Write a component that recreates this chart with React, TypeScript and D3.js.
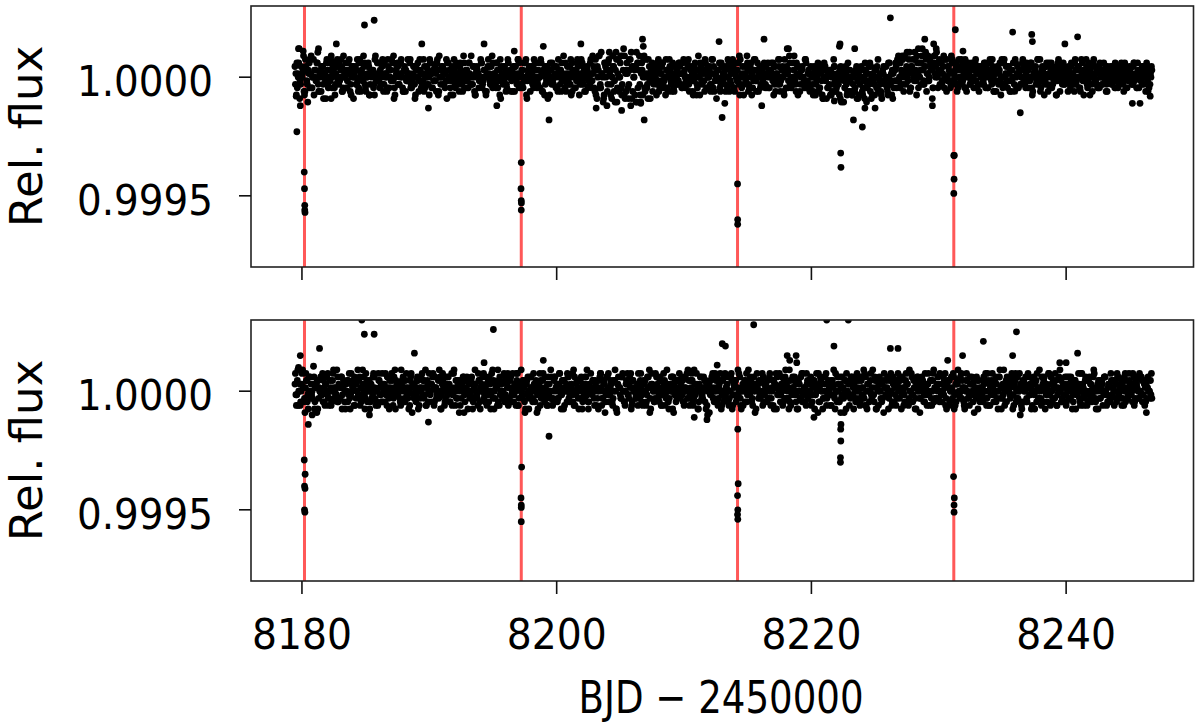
import React from "react";
import * as d3 from "d3";

// Time grid of the light curve (BJD - 2450000); three interleaved sets of cadences
const T_START = 8179.45;
const T_STEP = 0.1122;
const BAND_OFFSETS = [0, 1 / 3, 2 / 3];

// Band values are read in units of 15 ppm (flux = 1 + v * BAND_UNIT)
const BAND_UNIT = 1.5e-5;
// Outlier / transit values are read in units of 10 ppm (flux = 1 + v * EXTRA_UNIT)
const EXTRA_UNIT = 1e-5;

const TOP_BAND = [
  3,-5,1,8,-2,0,6,-4,2,-7,4,1,-3,5,0,-1,7,-4,2,3,-6,1,4,-2,0,5,-3,2,-5,3,
  -1,4,2,-4,6,0,-3,1,5,-2,3,-6,0,2,-1,4,-4,1,6,-2,0,3,-5,2,1,-3,5,-1,0,4,
  -2,3,-4,1,0,5,-3,2,-1,6,-5,1,3,-2,4,0,-4,2,-1,5,1,-3,0,3,-6,2,4,-1,1,-2,
  5,-3,0,2,-5,4,1,-1,3,-4,2,6,-2,0,1,-3,5,-1,2,-5,3,0,-2,4,1,-4,2,-1,6,0,
  -3,1,4,-2,0,3,-5,2,1,-1,5,-3,0,2,-4,3,1,-2,6,-1,0,4,-3,2,-6,1,3,0,-2,5,
  1,-4,2,0,3,-1,5,-3,1,-2,4,0,-5,2,3,-1,1,-3,4,2,-2,0,5,-4,1,3,-1,-6,2,0,
  4,-2,1,3,-4,0,2,-1,6,-3,1,0,-2,5,-4,2,1,-1,3,-5,0,4,-2,1,2,-3,0,5,-1,3,
  -4,2,0,6,-3,1,-6,4,2,-2,7,-5,0,3,-7,5,1,-4,6,-2,8,-6,2,-3,5,-8,3,0,-5,7,
  -3,6,-7,2,5,-4,1,-6,3,0,4,-2,1,-5,3,2,-1,4,-3,0,2,-4,5,-1,1,-3,3,0,-2,4,
  1,-3,5,0,-2,3,-4,2,1,-1,4,-5,2,0,3,-2,1,5,-3,0,2,-4,1,3,-1,-6,2,4,-2,0,
  3,-2,0,5,-4,1,2,-3,4,0,-1,6,-2,1,-5,3,0,2,-3,4,1,-1,5,-4,0,2,-2,3,1,-3,
  0,4,-3,2,1,-5,3,0,-2,5,-1,2,-4,1,3,-3,6,0,-2,2,-1,4,-5,1,0,3,-2,5,-3,1,
  -2,3,0,-4,1,-1,4,-3,2,-5,0,3,-6,1,-2,2,-4,5,-1,-3,1,-5,3,0,-7,2,-2,4,-4,0,
  -5,1,-3,3,-6,0,2,-4,-1,4,-7,1,-2,3,-5,0,2,-3,5,-1,-4,1,3,-2,0,-5,4,-1,2,-3,
  2,-3,5,0,-2,6,-4,1,3,-1,7,-3,2,0,5,-5,1,4,-2,8,-1,3,-4,6,0,2,-6,4,1,7,
  -3,5,2,-1,6,0,-4,3,1,-2,5,-1,2,4,-3,0,3,-2,1,5,-4,2,0,-1,3,-3,4,1,-2,2,
  0,3,-2,4,1,-3,2,0,5,-4,1,-1,3,2,-5,0,4,-2,1,3,-1,-4,2,0,5,-3,1,2,-2,4,
  -1,2,4,-3,0,3,-5,1,2,-1,5,0,-3,3,1,-2,4,-4,0,2,3,-1,1,-5,4,0,2,-2,3,-1,
  2,-4,1,3,0,-2,5,-1,2,-3,0,4,-5,1,3,-1,2,0,-4,5,1,-2,3,-3,0,2,4,-1,-2,1,
  0,3,-2,1,4,-1,-3,2,0,3,-4,1,2,-1,3,0,-2,4,1,-3,2,0,-1,3,-2,1,4,-4,2,0,
];

const TOP_BAND_B = [
  -2,4,0,-6,3,1,-4,5,-1,2,-3,6,0,-5,2,4,-2,1,-4,3,0,-1,5,-3,2,-6,1,4,-2,0,
  3,-1,5,-4,0,2,-3,4,1,-5,2,0,3,-2,-4,5,1,-1,3,-3,0,4,-5,2,1,-2,6,-1,0,-3,
  1,5,-2,0,-4,3,2,-1,4,-6,0,3,-2,1,5,-3,2,-4,0,1,4,-2,-1,3,-5,2,0,5,-3,1,
  -4,0,3,-2,5,1,-3,2,-1,4,-5,0,2,3,-2,1,-6,4,0,-1,2,5,-3,1,-2,3,0,-4,4,-1,
  2,-3,1,6,-2,0,-5,3,1,-1,4,-2,2,-4,0,5,-1,3,-3,1,-2,4,0,-5,3,1,-1,2,-3,4,
  0,2,-4,1,3,-2,5,0,-3,2,-1,4,-6,1,0,3,-2,5,-1,-3,2,0,4,-4,1,-2,3,1,-5,2,
  -1,3,0,-3,5,2,-4,1,0,4,-2,-1,3,-5,2,1,-3,4,0,-2,5,-1,2,-4,3,0,-2,1,6,-3,
  5,-6,2,-3,7,0,-5,3,-8,4,1,-2,6,-4,2,-7,5,0,-3,6,-5,1,4,-6,2,7,-4,0,3,-7,
  4,-2,1,-5,6,0,-3,5,-1,2,-4,3,0,-2,5,-3,1,4,-1,-5,2,0,3,-2,4,-4,1,2,-1,3,
  -2,4,1,-3,0,5,-1,2,-4,3,0,-2,6,-5,1,2,-1,4,-3,0,3,-2,5,-4,1,0,2,-3,4,-1,
  1,-4,3,0,2,-2,5,-3,1,-1,4,-5,0,3,-2,1,6,-4,2,0,-3,5,-1,2,-4,3,0,-1,4,-2,
  -3,2,0,4,-1,3,-4,1,5,-2,0,3,-5,2,1,-1,4,-3,0,6,-2,1,3,-4,2,0,-1,5,-3,2,
  -4,1,-2,3,-5,0,2,-3,1,-6,4,-1,0,-3,2,-5,1,3,-4,0,-2,2,-7,1,-1,3,-5,0,2,-4,
  0,-4,2,-6,1,-2,3,-5,0,2,-3,-1,4,-6,1,-2,0,3,-4,1,-5,2,-1,0,-3,4,-2,1,-6,2,
  4,-1,6,-3,2,5,0,-2,7,1,-4,3,5,-1,2,6,-3,0,4,2,-2,7,1,-1,5,3,-3,6,0,4,
  2,-2,4,1,-3,5,0,3,-1,6,-2,1,4,-4,2,0,5,-1,3,-3,1,4,-2,0,2,-1,5,-3,1,3,
  -2,1,4,-3,2,0,5,-1,3,-4,1,2,-2,4,0,-3,5,1,-1,3,-4,2,0,-2,4,1,-3,2,0,5,
  3,-3,0,2,-1,4,-4,1,3,0,-2,5,-1,2,-5,3,0,1,-3,4,-2,0,2,-1,5,-4,1,3,-2,0,
  -1,3,-2,4,1,-4,2,0,3,-3,5,-1,0,2,-2,4,-5,1,3,0,-1,2,-3,4,1,-2,0,3,-4,2,
  1,-2,3,0,-3,2,1,-1,4,-2,0,3,-3,1,2,-1,-2,4,0,-3,1,2,-1,3,0,-4,2,1,-2,3,
];

const TOP_BAND_C = [
  1,-3,4,-1,0,2,-5,3,-2,1,5,-3,0,2,-1,4,-4,0,3,-2,1,-6,2,4,-1,0,3,-3,1,5,
  -2,0,3,-3,1,4,-1,2,-4,0,3,1,-2,5,-3,0,2,-1,4,-4,1,3,-2,0,2,-5,1,4,-1,2,
  0,-2,4,1,-3,2,0,5,-1,-3,2,4,-2,0,1,-4,3,2,-1,0,5,-3,1,-2,3,0,-4,2,1,-1,
  3,1,-2,0,4,-3,2,-1,1,5,-4,0,3,-2,2,-1,4,0,-3,1,-5,2,3,-1,0,4,-2,1,-3,2,
  -1,4,0,-2,3,-4,1,2,-3,0,4,-1,2,-5,1,3,-2,0,4,1,-3,2,-1,5,0,-2,3,-4,1,0,
  2,-1,3,-4,0,1,4,-2,2,-3,0,5,-1,1,-4,2,3,-2,0,-1,4,-3,1,2,-5,0,3,-1,4,-2,
  0,3,-3,1,2,-2,4,-1,0,-4,3,1,-2,4,0,-3,2,5,-1,1,-2,3,-4,0,2,-1,4,-3,1,2,
  -5,3,6,-2,1,-7,4,0,-4,5,2,-6,3,-1,7,-3,0,4,-5,2,6,-4,1,-2,5,-6,3,2,-7,4,
  2,-5,4,0,-3,5,-2,1,-6,3,0,2,-1,4,-4,1,3,-2,0,5,-3,1,2,-4,0,3,-1,-2,4,1,
  -3,1,2,-1,4,-2,0,3,-5,1,2,-3,0,4,-1,2,-4,1,3,0,-2,5,-3,1,0,2,-1,-4,3,1,
  2,0,-3,4,-1,1,3,-4,0,2,-2,5,-3,0,1,-1,4,-2,3,-5,0,2,-1,4,1,-3,2,0,-2,3,
  1,-3,2,0,4,-2,1,-1,3,-4,2,0,5,-3,1,2,-2,-1,4,0,-4,3,1,-2,2,0,-3,4,-1,1,
  -3,0,-5,2,-2,1,-4,3,-1,-6,0,2,-3,1,-5,0,-2,3,-4,1,-1,-6,2,0,-3,1,-4,2,-1,-5,
  -2,-4,1,-1,-5,2,0,-3,-6,1,-2,3,-4,0,-1,-5,2,-3,0,-2,-6,1,-1,3,-4,0,-2,-5,1,-1,
  3,5,-1,4,1,-2,6,2,0,5,-3,3,1,7,-1,4,0,2,6,-2,3,5,1,-1,4,2,-3,6,3,0,
  1,4,-2,3,0,5,-1,2,-3,4,1,0,3,-2,5,-1,2,4,-3,0,3,1,-2,4,0,2,-1,3,-4,2,
  2,-1,0,3,-3,1,4,-2,0,2,-4,3,1,-1,5,-2,0,3,-3,1,2,-1,4,-4,0,3,1,-2,2,0,
  -2,1,3,-1,4,-3,0,2,-2,5,1,-4,2,0,-1,3,-2,4,1,-3,0,2,-5,3,1,-1,0,4,-2,1,
  0,2,-3,1,-1,4,-2,3,0,-4,1,2,-1,5,-3,0,2,-2,4,-1,1,-3,3,0,-2,2,1,-4,3,-1,
  1,-1,2,-3,0,3,-2,1,2,-1,4,-3,0,2,1,-2,3,-1,0,4,-3,1,-2,2,0,3,-1,-3,1,2,
];

const BOTTOM_BAND = [
  2,-4,6,0,-3,5,1,-6,3,-1,4,-2,0,7,-3,2,-5,1,4,-1,3,-4,0,5,-2,1,-3,6,0,-1,
  4,-2,1,-5,3,0,2,-3,5,-1,0,3,-4,2,6,-2,1,-1,4,-5,2,0,3,-3,1,5,-2,0,-4,3,
  -1,5,2,-3,0,4,-5,1,3,-2,6,0,-1,2,-4,3,1,-3,5,-2,0,4,-6,2,1,-1,3,-4,0,5,
  3,-1,-4,2,5,0,-3,1,4,-2,0,6,-5,2,1,-3,4,-1,2,0,-4,5,1,-2,3,-6,0,2,4,-3,
  1,-5,3,0,2,-2,6,-1,-4,3,1,0,5,-3,2,-1,4,-5,0,3,-2,1,6,-4,2,0,-1,3,-3,5,
  -2,4,0,-3,1,5,-4,2,0,-1,3,-6,2,4,-2,1,0,5,-3,2,-5,1,3,-1,0,4,-2,-4,2,6,
  0,-3,4,1,-2,5,-1,3,-5,0,2,4,-3,1,-1,6,-4,2,0,3,-2,-5,1,4,0,-3,2,5,-1,1,
  3,-4,1,0,5,-2,2,-6,4,1,-1,3,-3,0,6,-5,2,1,-2,4,0,-4,3,-1,2,5,-3,0,1,-2,
  -4,2,5,-1,0,3,-3,1,6,-5,2,0,-2,4,1,-3,3,-1,5,-4,0,2,-2,1,4,-6,3,0,-1,5,
  2,-1,-3,4,0,6,-4,1,3,-2,0,5,-5,2,1,-1,4,-3,2,0,-6,3,1,-2,5,0,-4,2,3,-1,
  -3,5,1,0,-2,4,-5,2,3,-1,6,0,-4,1,2,-3,5,-1,0,3,-2,4,-6,1,2,0,-1,5,-3,2,
  1,-2,4,-4,0,3,2,-5,1,5,-1,0,-3,4,2,-2,6,-4,1,0,3,-1,-5,2,4,-3,0,1,5,-2,
  0,4,-3,2,-1,5,-6,1,3,0,-2,4,-4,2,1,-1,3,6,-5,0,2,-3,1,4,-2,0,5,-1,-4,3,
  2,-5,0,3,1,-2,4,-1,6,-4,0,2,-3,5,1,-1,3,-5,0,4,-2,2,-6,1,3,0,-1,5,-3,2,
  -1,3,5,-2,0,4,-4,1,2,-3,6,0,-1,3,-5,2,4,-2,1,0,-3,5,-1,2,-4,3,0,6,-2,1,
  4,-3,0,2,-1,5,-5,1,3,0,-2,4,-4,2,6,-1,0,3,-3,1,5,-2,-4,2,0,3,-1,4,-5,1,
  -2,1,4,0,-4,3,2,-1,5,-3,0,2,-5,4,1,-2,6,0,-3,2,1,-1,4,-4,3,0,-2,5,1,-3,
  3,0,-2,5,-1,1,-4,4,2,-3,0,6,-2,1,3,-5,2,0,-1,4,-3,2,5,-4,1,0,3,-2,-1,4,
  -3,2,1,4,-5,0,3,-1,2,-2,5,1,-4,3,0,-3,4,2,-1,6,-2,1,-5,3,0,2,-1,4,-4,1,
  2,5,-1,0,3,-3,4,1,-2,2,-4,5,0,-1,3,1,-3,4,-2,2,0,5,-1,-3,3,1,-2,4,0,-1,
];

const BOTTOM_BAND_B = [
  5,-1,-4,2,0,6,-3,1,3,-5,0,2,-2,4,1,-6,3,0,-1,5,-3,2,4,-2,0,-4,3,1,-1,6,
  -3,1,4,-1,2,-5,0,3,-2,5,1,-4,2,0,-1,4,-3,6,0,-2,3,1,-5,2,-1,4,0,-3,5,1,
  2,-3,0,5,-4,1,3,-1,0,4,-5,2,1,-2,6,0,-3,3,-1,1,-4,5,2,-2,0,3,-5,1,4,-1,
  -2,6,1,-3,0,2,4,-4,1,-1,3,0,-5,5,2,-2,0,4,-3,1,-1,6,-4,0,2,3,-2,1,-6,3,
  4,0,-2,3,-5,1,2,-1,5,-3,0,4,-2,1,-4,3,0,-1,6,-5,2,1,-3,4,0,-2,5,-1,2,-4,
  1,-3,5,-1,0,3,-4,2,6,-2,1,-5,3,0,-1,4,-3,2,1,-6,0,5,-2,3,-1,1,-4,4,0,-2,
  -4,3,0,2,-2,5,-5,1,3,0,-3,4,-1,2,5,-4,0,3,-2,1,4,-3,-1,2,6,-5,1,0,3,-2,
  2,0,-5,4,1,-2,3,-3,0,5,-1,2,-4,3,0,-6,4,1,-2,5,-3,0,2,-1,4,-5,3,1,-2,0,
  5,-2,1,-4,3,0,-1,4,-6,2,1,-3,5,0,-2,3,-4,1,2,-1,6,-3,0,4,-5,2,1,-2,3,0,
  -1,3,-4,1,5,-2,0,3,-3,6,-1,2,-5,0,4,-2,1,3,-4,2,0,-1,5,-3,1,4,-2,0,-5,3,
  4,-1,2,-3,0,5,-4,1,3,-2,-1,4,-5,2,0,3,-3,6,-1,1,-4,2,0,5,-2,-1,3,-4,2,1,
  -3,0,5,-2,3,-5,1,4,-1,0,2,-4,3,6,-2,1,-3,0,4,-1,2,-5,3,0,-2,5,1,-3,2,-1,
  2,-4,1,3,-1,0,5,-3,2,-5,4,0,-2,3,1,-4,2,-1,5,-3,0,4,-2,1,-6,3,0,2,-1,4,
  -1,2,-3,5,0,-4,3,1,-2,4,-5,2,0,-1,6,-3,1,3,-4,0,2,-2,5,-1,1,-5,3,0,4,-3,
  3,-2,0,4,-5,1,-1,3,2,-4,0,5,-3,1,-2,4,0,-6,2,3,-1,1,-4,5,0,-2,3,-3,1,2,
  -2,5,-1,0,3,-4,2,1,-3,4,0,-5,2,3,-1,-2,5,1,-4,0,3,-2,4,-1,2,-6,1,3,0,-3,
  1,-3,2,5,-2,0,-4,3,1,-1,4,-2,0,6,-5,2,1,-3,4,0,-1,3,-5,2,5,-2,0,1,-4,3,
  0,4,-3,1,2,-5,3,-1,0,5,-2,1,-4,2,4,0,-3,5,-1,2,-2,1,3,-4,0,6,-3,1,2,-1,
  4,-2,0,3,-1,2,-5,1,5,-3,0,2,-1,4,-4,3,0,-2,1,5,-3,0,3,-2,1,-4,4,0,-1,2,
  -2,3,1,-4,2,5,-1,0,3,-2,4,-3,1,0,2,-1,5,-4,3,1,-2,0,4,-1,2,-3,3,0,-2,5,
];

const BOTTOM_BAND_C = [
  -1,3,0,-4,2,1,-2,5,-3,0,4,-1,2,-5,1,3,-2,0,4,-3,1,2,-1,-4,3,0,5,-2,1,-3,
  2,-2,4,1,-3,0,3,-1,-5,2,1,4,-2,0,3,-4,1,2,-1,5,-3,0,2,-2,4,1,-4,0,3,-1,
  -3,1,2,-1,4,-2,0,5,-4,1,3,-1,0,-3,2,4,-2,1,0,-5,3,1,-1,2,-3,4,0,-2,1,3,
  1,-4,3,0,-1,2,5,-3,1,0,-2,4,-1,3,-4,0,2,1,-3,5,-1,0,3,-2,1,-4,2,4,-1,0,
  0,2,-1,4,-3,1,0,-2,3,-5,2,1,-1,4,0,-3,2,5,-2,0,1,-4,3,-1,2,0,-3,4,1,-2,
  3,-1,0,2,-4,5,-2,1,0,3,-3,2,-1,-5,4,1,-2,0,3,-1,2,-4,1,5,-3,0,2,-1,-2,4,
  -2,4,1,-3,2,0,-1,3,-4,1,5,-2,0,2,-3,4,-1,1,-5,3,0,2,-2,4,-1,-3,1,0,3,-4,
  1,-2,3,5,-4,0,2,-1,4,-3,1,0,-2,3,-5,2,1,-1,4,0,-3,2,5,-2,1,-4,3,0,-1,2,
  -1,3,-3,0,2,-4,4,1,-2,5,0,-3,1,2,-1,4,-4,0,3,-2,1,-5,2,0,4,-1,-3,3,1,-2,
  4,-3,1,0,-2,3,-1,5,-4,2,0,1,-3,4,-2,0,3,-5,1,2,-1,4,-2,0,3,-3,1,5,-4,0,
  -2,1,4,-4,0,3,-1,2,-3,1,5,-2,0,-4,3,1,-1,2,4,-3,0,2,-5,1,3,-2,0,4,-1,2,
  3,-2,0,1,-4,2,5,-1,0,-3,4,1,-2,2,0,-5,3,-1,1,4,-3,0,2,-2,5,-1,1,-4,3,0,
  0,-1,3,-5,2,1,-3,4,0,-2,2,5,-1,0,-4,3,1,-2,0,4,-3,2,-1,1,3,-5,0,2,-2,4,
  1,4,-2,0,3,-3,1,-1,5,-4,2,0,3,-2,-1,4,-5,1,2,0,-3,3,1,-1,4,-2,0,-4,2,1,
  -4,2,1,3,-1,0,-3,5,2,-2,0,4,-1,1,-5,3,0,-2,4,1,-3,2,0,-1,3,-4,5,1,-2,0,
  2,0,-3,4,1,-2,3,-4,0,1,5,-1,-3,2,0,4,-2,1,-5,3,0,-1,2,4,-3,1,-2,0,3,-1,
  -1,3,0,-2,5,-4,1,2,-1,3,-3,0,4,-2,1,-1,-4,3,2,0,-2,5,-1,1,-3,4,0,2,-5,1,
  2,-3,1,4,-1,0,2,-5,3,1,-2,0,4,-3,2,-1,1,5,-4,0,3,-2,1,-1,4,0,-3,2,1,-4,
  0,4,-2,1,-3,3,0,-1,2,-4,5,1,-2,0,3,-1,2,-3,4,0,-5,2,1,-2,3,0,4,-1,-3,2,
  -3,1,3,0,-2,4,-1,2,-4,1,0,3,-2,5,-1,0,2,-3,1,4,-2,0,3,-1,-4,2,1,0,3,-2,
];

// Individual points off the band: [time, deviation in EXTRA_UNIT]
const TOP_EXTRA = [
  [8179.55,-8],[8179.6,-23],[8179.87,-12],[8179.73,12],[8180.1,11],[8181.3,12],[8182.7,14],
  [8182.3,9],[8184.91,22],[8185.67,24],[8189.41,14],[8189.93,-13],[8194.3,14],[8195.3,-12],
  [8196.67,11],[8198.95,13],[8199.4,-18],[8201.9,14],[8203.1,-13],[8205.1,-14],[8206.74,16],
  [8206.8,13],[8206.87,-18],[8206.6,-11],[8212.75,15],[8212.99,-17],[8213.2,-11],[8216.28,16],
  [8216.1,-12],[8218.1,12],[8218.2,12],[8221.8,-10],[8222.2,13],[8222.25,14],[8222.3,-32],
  [8222.32,-38],[8223.3,-18],[8223.4,12],[8224.0,-21],[8224.2,-13],[8225.0,-13],[8226.2,25],
  [8228.4,12],[8228.9,16],[8229.5,-12],[8229.6,14],[8229.8,12],[8231.3,20],[8231.9,11],
  [8235.8,19],[8236.4,-15],[8237.3,18],[8237.35,15],[8239.9,14],[8240.9,17],[8245.2,-11],
  [8245.8,-11],[8246.6,-8],
  // transits
  [8180.18,-40],[8180.2,-47],[8180.22,-54],[8180.22,-56],[8180.24,-57],
  [8197.22,-36],[8197.2,-47],[8197.22,-52],[8197.23,-53],[8197.22,-56],
  [8214.2,-45],[8214.21,-60],[8214.21,-62],
  [8231.18,-33],[8231.22,-33],[8231.2,-43],[8231.18,-49],
];

const BOTTOM_EXTRA = [
  [8179.73,10],[8179.87,15],[8181.38,18],[8184.7,30],[8184.9,24],[8185.67,24],[8180.5,-14],
  [8180.8,-10],[8185.3,-10],[8188.83,16],[8189.93,-13],[8194.3,12],[8195.03,26],[8198.95,13],
  [8199.4,-19],[8210.8,-11],[8211.8,-12],[8211.85,-10],[8212.6,11],[8213.0,20],[8213.25,19],
  [8215.47,28],[8218.1,15],[8218.3,13],[8218.8,15],[8218.85,12],[8220.2,-11],[8221.2,30],
  [8222.9,30],[8221.77,19],[8226.2,18],[8226.8,18],[8230.7,13],[8231.87,15],[8233.5,21],
  [8235.8,15],[8236.1,25],[8236.4,-10],[8239.5,12],[8240.0,12],[8240.9,16],[8246.3,-9],
  // short dip near 8222.3
  [8222.3,-9],[8222.32,-14],[8222.3,-16],[8222.31,-21],[8222.28,-28],[8222.28,-30],
  // transits
  [8180.18,-29],[8180.25,-35],[8180.2,-40],[8180.24,-41],[8180.2,-50],[8180.23,-51],
  [8197.25,-32],[8197.2,-45],[8197.22,-48],[8197.22,-49],[8197.22,-55],
  [8214.22,-16],[8214.25,-39],[8214.2,-44],[8214.22,-50],[8214.2,-52],[8214.22,-54],
  [8231.16,-36],[8231.22,-45],[8231.2,-48],[8231.2,-51],
];

const TRANSITS = [8180.2, 8197.22, 8214.2, 8231.18];
const X_TICKS = [8180, 8200, 8220, 8240];
const Y_TICKS = [0.9995, 1.0];
const X_DOMAIN = [8176, 8250];
const Y_DOMAIN = [0.9992, 1.0003];

const W = 1200;
const H = 723;
const LEFT = 251;
const RIGHT = 1193.5;
const PANELS = [
  { top: 6, bottom: 267, bands: [TOP_BAND, TOP_BAND_B, TOP_BAND_C], extra: TOP_EXTRA, labels: false },
  { top: 320, bottom: 581, bands: [BOTTOM_BAND, BOTTOM_BAND_B, BOTTOM_BAND_C], extra: BOTTOM_EXTRA, labels: true },
];

const FONT = "DejaVu Sans, Verdana, sans-serif";

function Panel({ p, idx }: { p: any; idx: number }) {
  const x = d3.scaleLinear().domain(X_DOMAIN).range([LEFT, RIGHT]);
  const y = d3.scaleLinear().domain(Y_DOMAIN).range([p.bottom, p.top]);
  const pts: [number, number][] = [];
  p.bands.forEach((band: number[], k: number) => {
    band.forEach((v, i) => pts.push([T_START + (i + BAND_OFFSETS[k]) * T_STEP, 1 + v * BAND_UNIT]));
  });
  p.extra.forEach((d: number[]) => pts.push([d[0], 1 + d[1] * EXTRA_UNIT]));
  const clipId = `clip${idx}`;
  const fmt = d3.format(".4f");
  const cy = (p.top + p.bottom) / 2;
  return (
    <g>
      <defs>
        <clipPath id={clipId}>
          <rect x={LEFT} y={p.top} width={RIGHT - LEFT} height={p.bottom - p.top} />
        </clipPath>
      </defs>
      <g clipPath={`url(#${clipId})`}>
        {TRANSITS.map((t) => (
          <line key={t} x1={x(t)} x2={x(t)} y1={p.top} y2={p.bottom} stroke="#ff2020" strokeOpacity={0.75} strokeWidth={3} />
        ))}
        {pts.map((d, i) => (
          <circle key={i} cx={x(d[0])} cy={y(d[1])} r={3.4} fill="#000" />
        ))}
      </g>
      <rect x={LEFT} y={p.top} width={RIGHT - LEFT} height={p.bottom - p.top} fill="none" stroke="#222" strokeWidth={1.6} />
      {X_TICKS.map((t) => (
        <g key={t}>
          <line x1={x(t)} x2={x(t)} y1={p.bottom} y2={p.bottom + 13} stroke="#111" strokeWidth={1.6} />
          {p.labels && (
            <text x={x(t)} y={p.bottom + 68} textAnchor="middle" fontFamily={FONT} fontSize={42} textLength={100} lengthAdjust="spacingAndGlyphs" fill="#000">
              {t}
            </text>
          )}
        </g>
      ))}
      {Y_TICKS.map((v) => (
        <g key={v}>
          <line x1={LEFT - 12} x2={LEFT} y1={y(v)} y2={y(v)} stroke="#111" strokeWidth={1.6} />
          <text x={213} y={y(v) + 19} textAnchor="end" fontFamily={FONT} fontSize={43} textLength={136} lengthAdjust="spacingAndGlyphs" fill="#000">
            {fmt(v)}
          </text>
        </g>
      ))}
      <text transform={`translate(42, ${cy}) rotate(-90)`} textAnchor="middle" fontFamily={FONT} fontSize={45} fill="#000">
        Rel. flux
      </text>
    </g>
  );
}

export default function App() {
  return (
    <svg width={W} height={H} style={{ position: "absolute", left: 0, top: 0, background: "#fff" }}>
      <rect width={W} height={H} fill="#fff" />
      {PANELS.map((p, i) => (
        <Panel key={i} p={p} idx={i} />
      ))}
      <text x={721} y={713} textAnchor="middle" fontFamily={FONT} fontSize={45} textLength={285} lengthAdjust="spacingAndGlyphs" fill="#000">
        BJD − 2450000
      </text>
    </svg>
  );
}
